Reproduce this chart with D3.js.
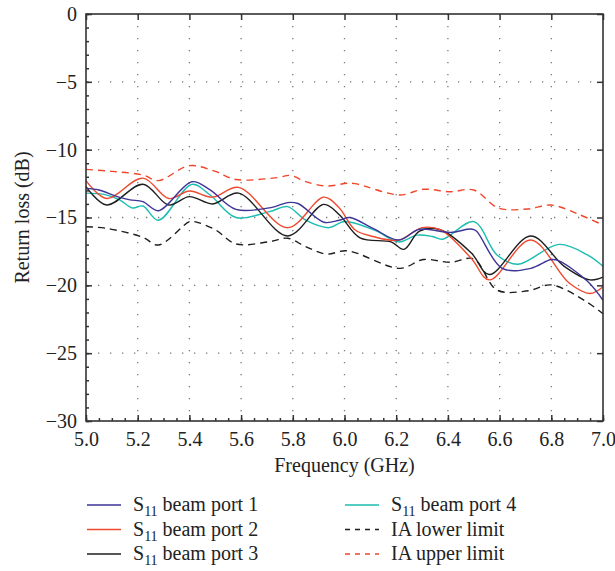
<!DOCTYPE html>
<html>
<head>
<meta charset="utf-8">
<script src="https://cdn.jsdelivr.net/npm/d3@7"></script>
<style>
  body { margin: 0; background: #fff; }
  text { font-family: "Liberation Serif", "DejaVu Serif", serif; fill: #222; }
</style>
</head>
<body>
<div id="chart"></div>
<script>
// data: [frequency GHz, return loss dB]
var port1 = [[5.0,-12.85],[5.05,-12.97],[5.12,-13.46],[5.17,-13.7],[5.22,-13.83],[5.28,-14.5],[5.41,-12.36],[5.48,-12.97],[5.58,-14.4],[5.72,-14.25],[5.78,-13.9],[5.82,-13.97],[5.92,-15.35],[5.98,-15.2],[6.02,-15.0],[6.11,-15.8],[6.21,-16.66],[6.29,-15.87],[6.41,-16.1],[6.49,-15.85],[6.51,-16.0],[6.61,-18.75],[6.72,-18.75],[6.8,-18.1],[6.83,-18.2],[6.94,-19.7],[7.0,-21.1]];
var port2 = [[5.0,-12.28],[5.08,-13.6],[5.22,-12.1],[5.32,-13.6],[5.4,-13.05],[5.49,-13.5],[5.59,-12.78],[5.78,-15.75],[5.92,-13.5],[5.98,-14.3],[6.04,-15.9],[6.11,-16.4],[6.21,-16.67],[6.3,-15.75],[6.37,-15.9],[6.49,-18.0],[6.56,-19.6],[6.72,-16.66],[6.87,-19.85],[6.95,-20.6],[7.0,-20.1]];
var port3 = [[5.0,-12.73],[5.08,-14.08],[5.22,-12.55],[5.32,-14.08],[5.4,-13.46],[5.49,-14.0],[5.59,-13.2],[5.78,-16.36],[5.92,-14.03],[5.98,-14.8],[6.06,-16.5],[6.18,-16.8],[6.23,-17.35],[6.29,-16.0],[6.37,-15.9],[6.49,-17.6],[6.56,-19.2],[6.72,-16.36],[6.85,-18.6],[6.95,-19.6],[7.0,-19.4]];
var port4 = [[5.0,-13.2],[5.07,-13.3],[5.13,-13.7],[5.18,-14.3],[5.22,-14.15],[5.28,-15.2],[5.41,-12.56],[5.48,-13.34],[5.58,-15.0],[5.71,-14.57],[5.78,-14.2],[5.85,-15.2],[5.94,-15.75],[6.0,-15.3],[6.12,-15.97],[6.21,-16.8],[6.28,-16.3],[6.34,-16.4],[6.38,-16.6],[6.5,-15.3],[6.59,-17.76],[6.67,-18.45],[6.83,-16.98],[6.94,-17.76],[7.0,-18.6]];
var lowerLimit = [[5.0,-15.68],[5.08,-15.8],[5.22,-16.46],[5.28,-17.03],[5.4,-15.3],[5.42,-15.3],[5.5,-15.9],[5.58,-16.95],[5.71,-16.78],[5.78,-16.53],[5.85,-17.15],[5.93,-17.7],[6.01,-17.45],[6.215,-18.75],[6.305,-18.1],[6.41,-18.3],[6.5,-18.05],[6.59,-20.35],[6.71,-20.4],[6.8,-19.97],[6.935,-21.2],[7.0,-22.1]];
var upperLimit = [[5.0,-11.45],[5.1,-11.6],[5.22,-11.87],[5.28,-12.28],[5.4,-11.18],[5.5,-11.6],[5.58,-12.2],[5.74,-12.06],[5.79,-11.9],[5.85,-12.36],[5.93,-12.68],[6.01,-12.48],[6.04,-12.5],[6.215,-13.34],[6.305,-12.92],[6.41,-13.1],[6.5,-12.97],[6.595,-14.3],[6.71,-14.37],[6.8,-14.08],[6.91,-14.8],[7.0,-15.55]];

var xTicks = [5.0,5.2,5.4,5.6,5.8,6.0,6.2,6.4,6.6,6.8,7.0];
var yTicks = [0,-5,-10,-15,-20,-25,-30];

var series = [
    {name: "beam port 1", data: port1, color: "#3d3597", dash: null},
    {name: "beam port 2", data: port2, color: "#ee4a2f", dash: null},
    {name: "beam port 3", data: port3, color: "#1e1e1e", dash: null},
    {name: "beam port 4", data: port4, color: "#1bbcb1", dash: null},
    {name: "IA lower limit", data: lowerLimit, color: "#1e1e1e", dash: "7,5"},
    {name: "IA upper limit", data: upperLimit, color: "#f0462a", dash: "7,5"}
];

var width = 615, height = 571;
var mLeft = 86, mRight = 603, mTop = 14, mBottom = 421;

var svg = d3.select("#chart").append("svg")
    .attr("width", width)
    .attr("height", height);

var x = d3.scaleLinear().domain([5, 7]).range([mLeft, mRight]);
var y = d3.scaleLinear().domain([-30, 0]).range([mBottom, mTop]);

// dotted grid
var grid = svg.append("g");
grid.selectAll(".gx").data(xTicks.slice(1, -1)).enter().append("line")
    .attr("x1", d => x(d)).attr("x2", d => x(d))
    .attr("y1", mTop).attr("y2", mBottom)
    .attr("stroke", "#777").attr("stroke-width", 1.3)
    .attr("stroke-dasharray", "1.3,10.7");
grid.selectAll(".gy").data(yTicks.slice(1, -1)).enter().append("line")
    .attr("x1", mLeft).attr("x2", mRight)
    .attr("y1", d => y(d)).attr("y2", d => y(d))
    .attr("stroke", "#777").attr("stroke-width", 1.3)
    .attr("stroke-dasharray", "1.3,10.7");

// curves
var line = d3.line()
    .x(d => x(d[0]))
    .y(d => y(d[1]))
    .curve(d3.curveCatmullRom.alpha(0.5));

svg.append("g").selectAll("path")
    .data(series.slice().reverse())
    .enter().append("path")
    .attr("d", d => line(d.data))
    .attr("fill", "none")
    .attr("stroke", d => d.color)
    .attr("stroke-width", 1.4)
    .attr("stroke-dasharray", d => d.dash);

// axes (ticks inside)
var minorX = d3.range(5, 7.001, 0.05);
var minorY = d3.range(-30, 0.001, 1);

svg.append("g").attr("transform", "translate(0," + mBottom + ")")
    .call(d3.axisBottom(x).tickValues(minorX).tickSize(-3).tickFormat(""));
svg.append("g").attr("transform", "translate(0," + mBottom + ")")
    .call(d3.axisBottom(x).tickValues(xTicks).tickSize(-6).tickPadding(11).tickFormat(d3.format(".1f")));
svg.append("g").attr("transform", "translate(0," + mTop + ")")
    .call(d3.axisTop(x).tickValues(xTicks).tickSize(-6).tickFormat(""));
svg.append("g").attr("transform", "translate(" + mLeft + ",0)")
    .call(d3.axisLeft(y).tickValues(minorY).tickSize(-3).tickFormat(""));
svg.append("g").attr("transform", "translate(" + mLeft + ",0)")
    .call(d3.axisLeft(y).tickValues(yTicks).tickSize(-6).tickPadding(9)
        .tickFormat(d => d < 0 ? "\u2212" + Math.abs(d) : d));
svg.append("g").attr("transform", "translate(" + mRight + ",0)")
    .call(d3.axisRight(y).tickValues(yTicks).tickSize(-6).tickFormat(""));

svg.selectAll(".domain").remove();
svg.selectAll(".tick line").attr("stroke", "#333").attr("stroke-width", 1.5);
svg.selectAll(".tick text").style("font-size", "20px")
    .style("font-family", "'Liberation Serif', serif").attr("fill", "#222");

svg.append("rect")
    .attr("x", mLeft).attr("y", mTop)
    .attr("width", mRight - mLeft).attr("height", mBottom - mTop)
    .attr("fill", "none").attr("stroke", "#333").attr("stroke-width", 1.6);

// axis titles
svg.append("text")
    .attr("x", (mLeft + mRight) / 2).attr("y", 472)
    .attr("text-anchor", "middle").style("font-size", "20px")
    .text("Frequency (GHz)");
svg.append("text")
    .attr("transform", "translate(29," + ((mTop + mBottom) / 2) + ") rotate(-90)")
    .attr("text-anchor", "middle").style("font-size", "20px")
    .text("Return loss (dB)");

// legend
var legend = svg.append("g");
var items = legend.selectAll("g").data(series).enter().append("g")
    .attr("transform", function(d, i) {
        var col = Math.floor(i / 3), row = i % 3;
        return "translate(" + (87 + col * 258) + "," + (505 + row * 24.5) + ")";
    });
items.append("line")
    .attr("x1", 0).attr("x2", 34)
    .attr("stroke", d => d.color).attr("stroke-width", 1.4)
    .attr("stroke-dasharray", d => d.dash ? "5,5" : null);
items.append("text")
    .attr("x", 46).attr("y", 6)
    .style("font-size", "20px")
    .each(function(d) {
        var t = d3.select(this);
        if (d.dash) {
            t.text(d.name);
        } else {
            t.append("tspan").text("S");
            t.append("tspan").attr("dy", 5).style("font-size", "14px").text("11");
            t.append("tspan").attr("dy", -5).text(" " + d.name);
        }
    });
</script>
</body>
</html>
